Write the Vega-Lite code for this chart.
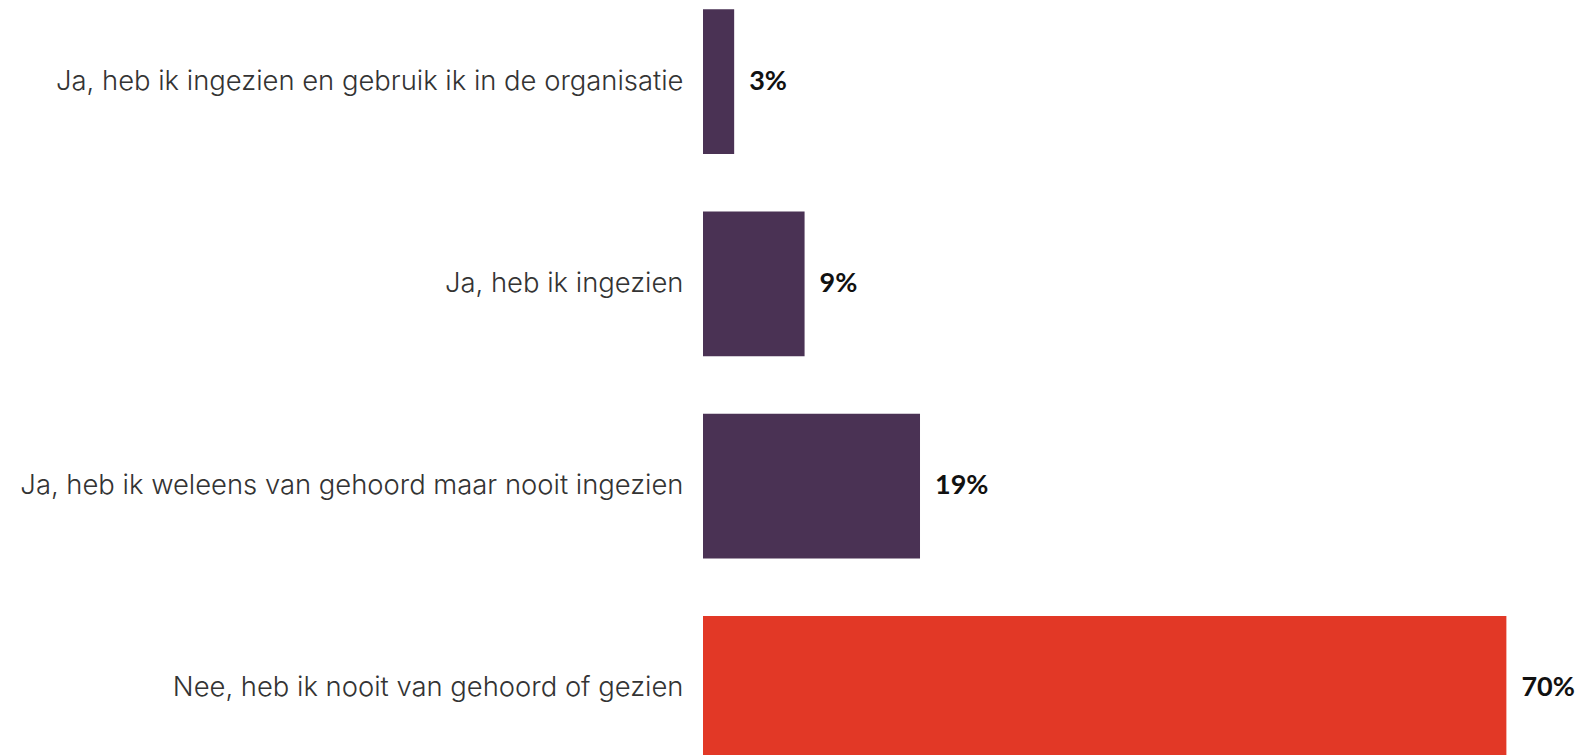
{
  "$schema": "https://vega.github.io/schema/vega-lite/v6.json",
  "autosize": {"type": "none"},
  "width": 808,
  "height": 770,
  "padding": {"left": 703, "top": 0, "right": 75, "bottom": 0},
  "background": "white",
  "config": {"view": {"stroke": null}},
  "data": {
    "values": [
      {"categorie": "Ja, heb ik ingezien en gebruik ik in de organisatie", "waarde": 2.7, "label": "3%", "groep": "ja"},
      {"categorie": "Ja, heb ik ingezien", "waarde": 8.8, "label": "9%", "groep": "ja"},
      {"categorie": "Ja, heb ik weleens van gehoord maar nooit ingezien", "waarde": 18.8, "label": "19%", "groep": "ja"},
      {"categorie": "Nee, heb ik nooit van gehoord of gezien", "waarde": 69.6, "label": "70%", "groep": "nee"}
    ]
  },
  "encoding": {
    "y": {
      "field": "categorie",
      "type": "nominal",
      "sort": null,
      "scale": {"paddingInner": 0.285, "paddingOuter": 0.046},
      "axis": {
        "title": null,
        "domain": false,
        "ticks": false,
        "labelPadding": 20,
        "labelFont": "Inter",
        "labelFontSize": 27.4,
        "labelFontWeight": 300,
        "labelColor": "#333333",
        "labelLimit": 800
      }
    },
    "x": {
      "field": "waarde",
      "type": "quantitative",
      "scale": {"domain": [0, 70]},
      "axis": null
    }
  },
  "layer": [
    {
      "mark": {"type": "bar"},
      "encoding": {
        "color": {
          "field": "groep",
          "type": "nominal",
          "scale": {"domain": ["ja", "nee"], "range": ["#4A3254", "#E23826"]},
          "legend": null
        }
      }
    },
    {
      "mark": {"type": "text", "align": "left", "baseline": "middle", "dx": 15, "font": "Lato", "fontWeight": "bold", "fontSize": 27, "color": "#111111"},
      "encoding": {"text": {"field": "label"}}
    }
  ]
}
